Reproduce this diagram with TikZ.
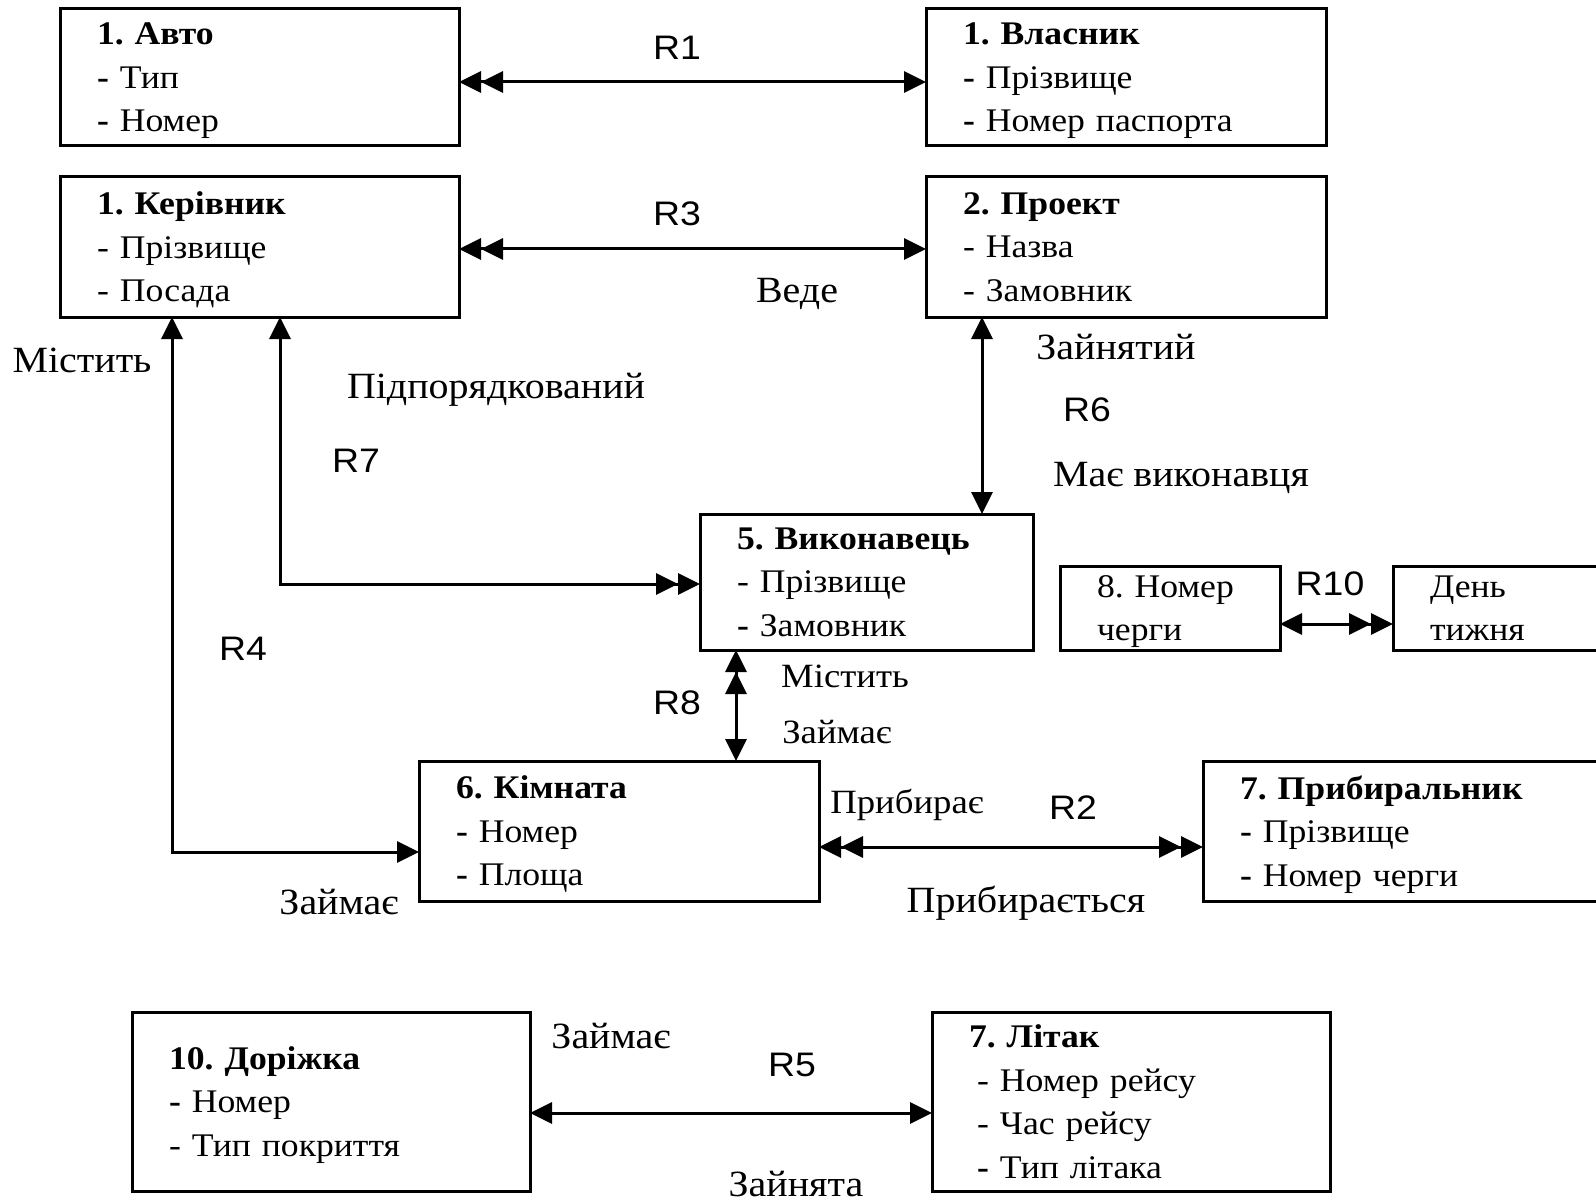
\documentclass[tikz,border=0pt]{standalone}
\usepackage{fontspec}
\setmainfont{Liberation Serif}[FakeStretch=1.08]
\setsansfont{Liberation Sans}[FakeStretch=1.1]
\usetikzlibrary{arrows.meta}
\frenchspacing

% last line of a box without its descender
\newcommand{\lastln}[1]{\raisebox{0pt}[\height][0pt]{#1}}

\tikzset{
  entity/.style={draw, line width=3pt, anchor=north west, inner xsep=37pt, inner ysep=0pt,
    outer sep=0pt, align=left, font=\fontsize{33}{43.5}\selectfont},
  rel/.style={anchor=base, font=\sffamily\fontsize{34}{40}\selectfont},
  verb/.style={anchor=base, font=\fontsize{37}{42}\selectfont},
  verbsm/.style={anchor=base, font=\fontsize{34}{40}\selectfont},
  link/.style={line width=3pt},
  hd/.tip={Triangle[length=22pt,width=21pt]},
  hhd/.tip={Triangle[length=22pt,width=21pt] Triangle[length=22pt,width=21pt]}
}

\begin{document}
\begin{tikzpicture}[x=1pt, y=-1pt]
\useasboundingbox (0,0) rectangle (1596,1201);
\clip (0,0) rectangle (1596,1201);

% entities
\node[entity, text width=325pt, minimum height=137pt] (avto) at (60,9)
  {\textbf{1. Авто}\\\textbf{-} Тип\\\lastln{\textbf{-} Номер}};
\node[entity, text width=326pt, minimum height=137pt] (vlasnyk) at (926,9)
  {\textbf{1. Власник}\\\textbf{-} Прізвище\\\lastln{\textbf{-} Номер паспорта}};
\node[entity, text width=325pt, minimum height=140pt] (kerivnyk) at (60,177)
  {\textbf{1. Керівник}\\- Прізвище\\\lastln{- Посада}};
\node[entity, text width=326pt, minimum height=140pt] (proekt) at (926,177)
  {\textbf{2. Проект}\\- Назва\\\lastln{- Замовник}};
\node[entity, text width=259pt, minimum height=136pt] (vykonavets) at (700,514)
  {\textbf{5. Виконавець}\\- Прізвище\\\lastln{\textbf{-} Замовник}};
\node[entity, text width=146pt, minimum height=84pt] (cherga) at (1060,566)
  {8. Номер\\\lastln{черги}};
\node[entity, text width=183pt, minimum height=84pt] (den) at (1393,566)
  {День\\\lastln{тижня}};
\node[entity, text width=326pt, minimum height=140pt] (kimnata) at (419,761)
  {\textbf{6. Кімната}\\\textbf{-} Номер\\\lastln{\textbf{-} Площа}};
\node[entity, text width=373pt, minimum height=140pt] (prybyralnyk) at (1203,761)
  {\textbf{7. Прибиральник}\\\textbf{-} Прізвище\\\lastln{\textbf{-} Номер черги}};
\node[entity, text width=324pt, minimum height=179pt] (dorizhka) at (132,1012)
  {\textbf{10. Доріжка}\\\textbf{-} Номер\\\lastln{- Тип покриття}};
\node[entity, text width=324pt, minimum height=179pt] (litak) at (932,1012)
  {\textbf{7. Літак}\\\hspace*{8pt}- Номер рейсу\\\hspace*{8pt}- Час рейсу\\\lastln{\hspace*{8pt}\textbf{-} Тип літака}};

% relationships
\draw[link, hhd-hd] ([yshift=-4.5pt]avto.east) -- ([yshift=-4.5pt]vlasnyk.west);
\draw[link, hhd-hd] ([yshift=-2pt]kerivnyk.east) -- ([yshift=-2pt]proekt.west);
\draw[link, hd-hd] (proekt.south -| 982,0) -- (vykonavets.north -| 982,0);
\draw[link, hd-hhd] (kerivnyk.south -| 280,0) |- ([yshift=-2pt]vykonavets.west);
\draw[link, hd-hd] (kerivnyk.south -| 172,0) |- ([yshift=-21pt]kimnata.west);
\draw[link, hhd-hd] (vykonavets.south -| 736,0) -- (kimnata.north -| 736,0);
\draw[link, hhd-hhd] ([yshift=-16pt]kimnata.east) -- ([yshift=-16pt]prybyralnyk.west);
\draw[link, hd-hhd] ([yshift=-16pt]cherga.east) -- ([yshift=-16pt]den.west);
\draw[link, hd-hd] ([yshift=-11.5pt]dorizhka.east) -- ([yshift=-11.5pt]litak.west);

% labels
\node[rel] (r1) at (677,60) {R1};
\node[rel] (r3) at (677,226) {R3};
\node[verb] (vede) at (797,302) {Веде};
\node[verb] (zainiatyi) at (1116,359) {Зайнятий};
\node[rel] (r6) at (1087,421) {R6};
\node[verb] (maie) at (1181,486) {Має виконавця};
\node[verb] (mistyt1) at (82,372) {Містить};
\node[verb] (pidpor) at (496,398) {Підпорядкований};
\node[rel] (r7) at (356,472) {R7};
\node[rel] (r4) at (243,660) {R4};
\node[rel] (r8) at (677,714) {R8};
\node[verbsm] (mistyt2) at (845,687) {Містить};
\node[verbsm] (zaimaie1) at (837,743) {Займає};
\node[rel] (r10) at (1330,595) {R10};
\node[verbsm] (prybyraie) at (907,813) {Прибирає};
\node[rel] (r2) at (1073,819) {R2};
\node[verb] (prybyraietsia) at (1026,912) {Прибирається};
\node[verb] (zaimaie2) at (339,914) {Займає};
\node[verb] (zaimaie3) at (611,1048) {Займає};
\node[rel] (r5) at (792,1076) {R5};
\node[verb] (zainiata) at (796,1196) {Зайнята};

\end{tikzpicture}
\end{document}
